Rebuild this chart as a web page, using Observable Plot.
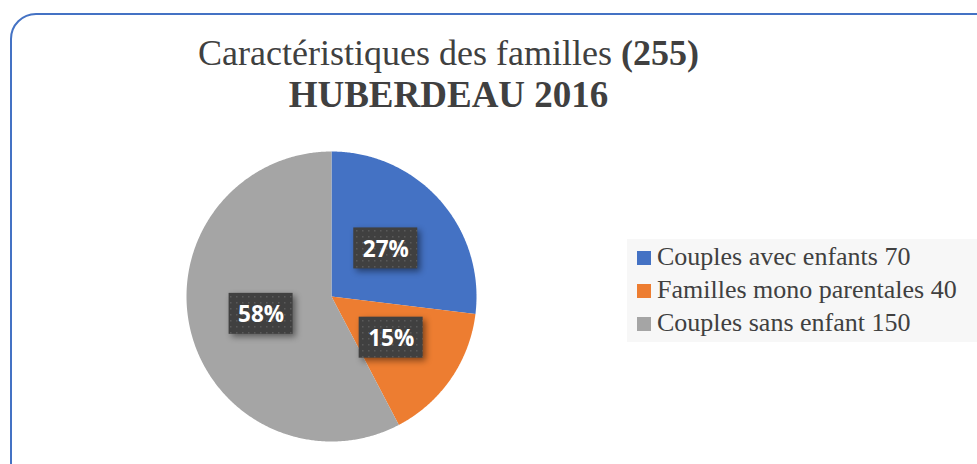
<!DOCTYPE html>
<html>
<head>
<meta charset="utf-8">
<script src="https://cdn.jsdelivr.net/npm/d3@7"></script>
<script src="https://cdn.jsdelivr.net/npm/@observablehq/plot@0.6"></script>
<style>
  html, body { margin: 0; padding: 0; background: #ffffff; }
  #wrap { position: relative; width: 977px; height: 464px; overflow: hidden; background: #ffffff; }
  #frame { position: absolute; left: 10px; top: 13px; width: 1000px; height: 480px;
           border: 2px solid #4472C4; border-radius: 26px; box-sizing: border-box; }
  #chart { position: absolute; left: 0; top: 0; }
  #title { position: absolute; left: 0; width: 897px; top: 32px; text-align: center;
           font-family: "Liberation Serif", serif; color: #404040; font-size: 36px; line-height: 42px; }
  #title .l1 { font-size: 36px; }
  #title .l2 { font-size: 37px; }
  #title b { font-weight: bold; }
  #legend { position: absolute; left: 627px; top: 239px; width: 360px; height: 103px; background: #f7f7f7;
            font-family: "Liberation Serif", serif; color: #404040; font-size: 26px; }
  .item { position: absolute; left: 10px; height: 28px; line-height: 28px; white-space: nowrap; }
  .sw { display: inline-block; width: 14px; height: 14px; margin-right: 6px; vertical-align: 0px; }
</style>
</head>
<body>
<div id="wrap">
  <div id="frame"></div>
  <div id="chart"></div>
  <div id="title"></div>
  <div id="legend"></div>
</div>
<script>
const categories = ["Couples avec enfants", "Familles mono parentales", "Couples sans enfant"];
const values = [70, 40, 150];
const percentLabels = ["27%", "15%", "58%"];
const colors = ["#4472C4", "#ED7D31", "#A5A5A5"];
const titleLine1 = "Caractéristiques des familles";
const titleTotal = "(255)";
const titleLine2 = "HUBERDEAU 2016";

const arcs = d3.pie().sort(null).value(d => d)(values);

const slicePts = arcs.flatMap((a, i) => {
  const pts = [{x: 0, y: 0, i}];
  const n = Math.max(2, Math.ceil((a.endAngle - a.startAngle) / (Math.PI / 360)));
  for (let k = 0; k <= n; k++) {
    const t = a.startAngle + (a.endAngle - a.startAngle) * k / n;
    pts.push({x: Math.sin(t), y: -Math.cos(t), i});
  }
  return pts;
});

const labelR = 0.5;
const hw = 32 / 145, hh = 20.5 / 145;
const labels = arcs.map((a, i) => {
  const t = (a.startAngle + a.endAngle) / 2;
  return {x: labelR * Math.sin(t), y: -labelR * Math.cos(t), text: percentLabels[i]};
});

const svg = Plot.plot({
  width: 977,
  height: 464,
  margin: 0,
  x: {domain: [-1, 1], range: [186, 476], axis: null},
  y: {domain: [-1, 1], range: [151, 441], axis: null},
  color: {type: "identity"},
  marks: [
    Plot.line(slicePts, {x: "x", y: "y", z: "i", fill: d => colors[d.i], stroke: "none", curve: "linear-closed"}),
    Plot.rect(labels, {x1: d => d.x - hw, x2: d => d.x + hw, y1: d => d.y - hh, y2: d => d.y + hh, fill: "url(#dots)"}),
    Plot.text(labels, {x: "x", y: "y", text: "text", fill: "#ffffff", fontSize: 22.5, fontWeight: "bold",
      fontFamily: "'Open Sans', sans-serif", dy: 1})
  ]
});

const s = d3.select(svg);
const defs = s.insert("defs", ":first-child");
const pat = defs.append("pattern").attr("id", "dots").attr("patternUnits", "userSpaceOnUse")
  .attr("width", 6).attr("height", 6);
pat.append("rect").attr("width", 6).attr("height", 6).attr("fill", "#404040");
pat.append("rect").attr("x", 2).attr("y", 2).attr("width", 1.5).attr("height", 1.5).attr("fill", "#5a5a5a");
s.select('g[aria-label="rect"]').style("filter", "drop-shadow(3px 3px 3px rgba(0,0,0,0.45))");

document.getElementById("chart").appendChild(svg);

document.getElementById("title").innerHTML =
  `<div class="l1">${titleLine1} <b>${titleTotal}</b></div><div class="l2"><b>${titleLine2}</b></div>`;

const legend = document.getElementById("legend");
const rowTops = [4, 37, 70];
categories.forEach((c, i) => {
  const row = document.createElement("div");
  row.className = "item";
  row.style.top = rowTops[i] + "px";
  row.innerHTML = `<span class="sw" style="background:${colors[i]}"></span>${c} ${values[i]}`;
  legend.appendChild(row);
});
</script>
</body>
</html>
